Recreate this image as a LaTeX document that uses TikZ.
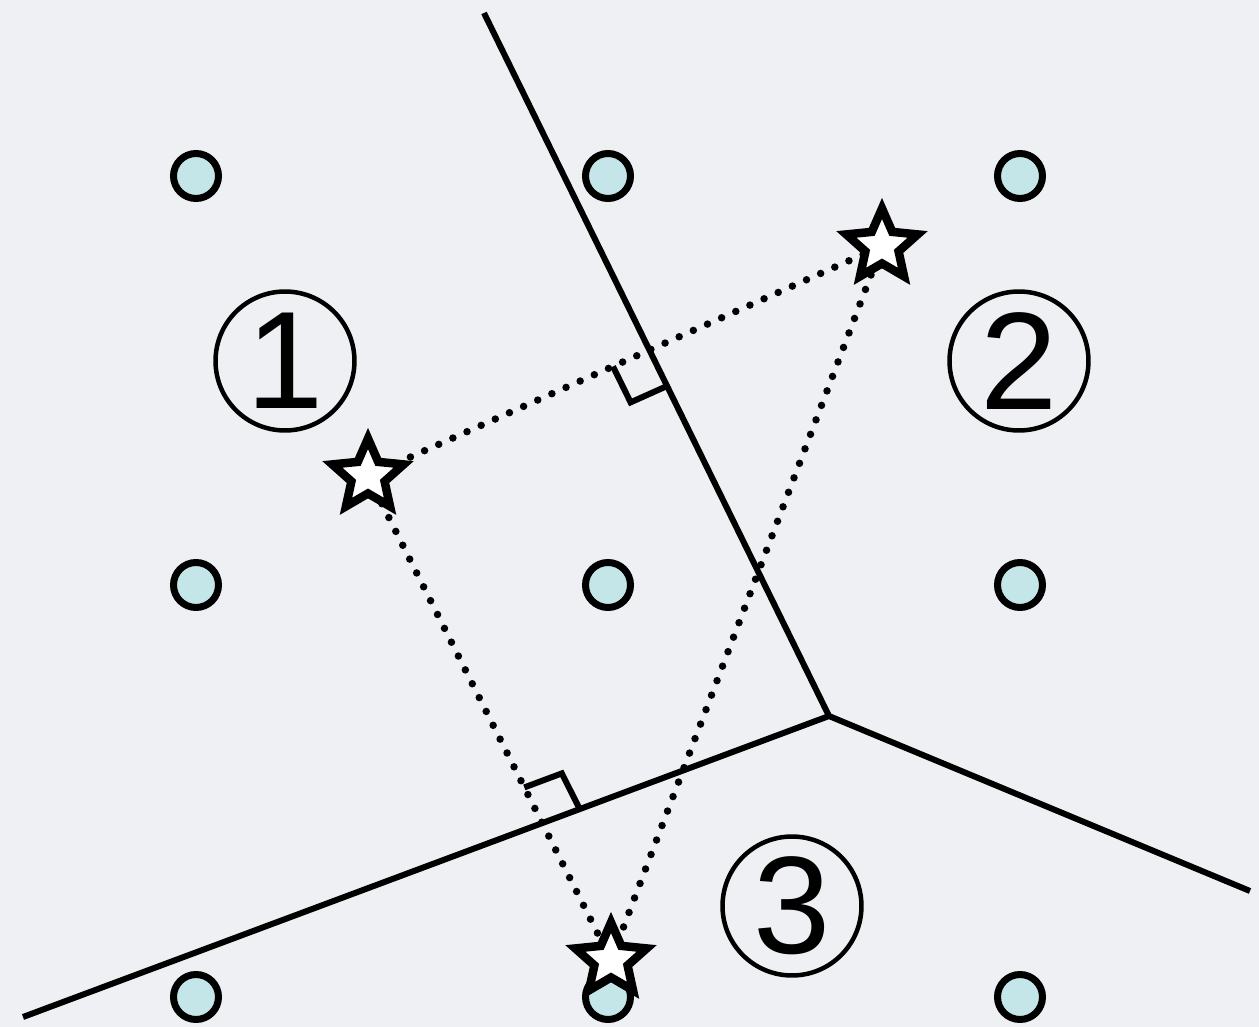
\documentclass[tikz,border=0pt]{standalone}
\usepackage{fontspec}
\setmainfont{Liberation Sans}
\usetikzlibrary{shapes.geometric,calc}
\begin{document}
\begin{tikzpicture}[x={(0.02cm,0cm)},y={(0cm,-0.02cm)},
  site/.style={circle, draw, line width=0.14cm, fill={rgb,255:red,196;green,230;blue,232}, minimum size=0.9cm, inner sep=0pt},
  seed/.style={star, star points=5, star point ratio=2.15, draw, line width=0.17cm, fill=white, minimum size=1.5cm, inner sep=0pt},
  region/.style={circle, draw, line width=0.09cm, minimum size=2.78cm, inner sep=0pt, font=\fontsize{79}{79}\selectfont},
  border/.style={line width=0.12cm},
  link/.style={line width=0.15cm, line cap=round, dash pattern=on 0pt off 0.31cm},
  rightmark/.style={line width=0.12cm}]
\fill[fill={rgb,255:red,238;green,240;blue,243}] (0,0) rectangle (1259,1027);
\useasboundingbox (0,0) rectangle (1259,1027);
% lattice of sites
\foreach \i/\x in {1/196,2/608,3/1020}
  \foreach \j/\y in {1/176,2/585,3/997}
    \node[site] (p\i\j) at (\x,\y) {};
% boundaries
\coordinate (top) at (484,13);
\coordinate (junc) at (829,716);
\coordinate (rend) at (1250,891);
\coordinate (lend) at (23,1017);
\draw[border] (top) -- (junc) -- (rend);
\draw[border] (junc) -- (lend);
% seeds and their links
\coordinate (c1) at (368,476);
\coordinate (c2) at (882,246);
\coordinate (c3) at (611,960);
\draw[link] (c1) -- (c2);
\draw[link] (c1) -- (c3);
\draw[link] (c2) -- (c3);
\node[seed] (s1) at (c1) {};
\node[seed] (s2) at (c2) {};
\node[seed] (s3) at (c3) {};
% right angle marks
\coordinate (f12) at (intersection of c1--c2 and top--junc);
\coordinate (f13) at (intersection of c1--c3 and junc--lend);
\coordinate (a12) at ($(f12)!0.8cm!(c1)$);
\coordinate (b12) at ($(f12)!0.8cm!(junc)$);
\coordinate (a13) at ($(f13)!0.8cm!(c1)$);
\coordinate (b13) at ($(f13)!0.8cm!(junc)$);
\draw[rightmark] (a12) -- ($(a12)+(b12)-(f12)$) -- (b12);
\draw[rightmark] (a13) -- ($(a13)+(b13)-(f13)$) -- (b13);
% regions
\node[region] (r1) at (285,361) {1};
\node[region] (r2) at (1019,361) {2};
\node[region] (r3) at (792,906) {3};
\end{tikzpicture}
\end{document}
